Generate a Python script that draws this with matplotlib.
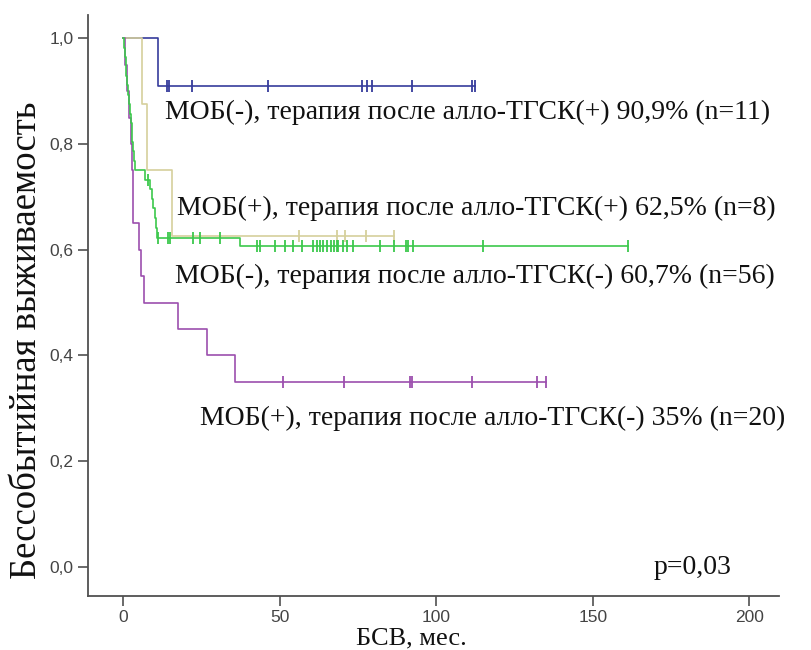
import matplotlib
matplotlib.use("Agg")
import matplotlib.pyplot as plt
import numpy as np

# ---------------- data ----------------
# Group 1: МОБ(-), therapy after allo-HSCT (+), n=11
blue_event_t = [11.3]
blue_event_s = [0.909]
blue_censor_t = [14.1, 14.6, 22.0, 46.3, 76.3, 77.9, 79.5, 92.3, 111.5, 112.5]

# Group 2: МОБ(+), therapy after allo-HSCT (+), n=8
yellow_event_t = [6.2, 7.6, 15.6]
yellow_event_s = [0.875, 0.750, 0.625]
yellow_censor_t = [56.2, 68.3, 70.9, 77.6, 86.6]

# Group 3: МОБ(-), therapy after allo-HSCT (-), n=56
green_event_t = [0.3, 0.5, 0.8, 1.0, 1.3, 1.5, 1.8, 2.1, 2.4, 2.7, 3.0, 3.3, 3.5, 3.8,
                 7.0, 8.6, 9.1, 9.6, 10.1, 10.5, 10.9, 37.5]
green_event_s = [0.982, 0.964, 0.946, 0.929, 0.911, 0.893, 0.875, 0.857, 0.839, 0.821,
                 0.804, 0.786, 0.768, 0.750, 0.732, 0.714, 0.696, 0.678, 0.660, 0.641,
                 0.623, 0.607]
green_censor_t = [7.9, 11.2, 14.4, 15.0, 22.4, 24.6, 31.0,
                  42.8, 43.8, 48.5, 51.7, 54.3, 57.2, 60.7, 62.0, 62.9, 63.9, 65.2, 66.4,
                  67.4, 68.3, 68.7, 70.3, 71.6, 73.5, 82.1, 86.6, 90.4, 91.0, 92.6, 115.0,
                  161.3]

# Group 4: МОБ(+), therapy after allo-HSCT (-), n=20
purple_event_t = [0.6, 1.2, 1.8, 2.6, 3.0, 3.1, 3.2, 5.1, 5.8, 6.7, 17.6, 26.8, 35.8]
purple_event_s = [0.95, 0.90, 0.85, 0.80, 0.75, 0.70, 0.65, 0.60, 0.55, 0.50, 0.45, 0.40, 0.35]
purple_censor_t = [51.1, 70.6, 91.7, 92.3, 111.5, 132.2, 135.0]

labels = [
    "МОБ(-), терапия после алло-ТГСК(+) 90,9% (n=11)",
    "МОБ(+), терапия после алло-ТГСК(+) 62,5% (n=8)",
    "МОБ(-), терапия после алло-ТГСК(-) 60,7% (n=56)",
    "МОБ(+), терапия после алло-ТГСК(-) 35% (n=20)",
]
label_x = [13.4, 17.2, 16.6, 24.6]
label_y = [0.847, 0.666, 0.537, 0.268]

x_ticks = [0, 50, 100, 150, 200]
y_ticks = [0.0, 0.2, 0.4, 0.6, 0.8, 1.0]
y_tick_labels = ["0,0", "0,2", "0,4", "0,6", "0,8", "1,0"]
p_text = "p=0,03"
x_title = "БСВ, мес."
y_title = "Бессобытийная выживаемость"

# ---------------- drawing ----------------
fig = plt.figure(figsize=(8.11, 6.5), dpi=100)
ax = fig.add_axes([0.1081, 0.0831, 0.9603 - 0.1081, 0.9769 - 0.0831])
ax.set_xlim(-11.3, 209.4)
ax.set_ylim(-0.0553, 1.044)


def draw_km(ev_t, ev_s, cen_t, color, z):
    ev_t = list(ev_t)
    ev_s = list(ev_s)
    end = max(ev_t + list(cen_t))
    times = [0.0] + ev_t + [end]
    surv = [1.0] + ev_s + [ev_s[-1]]
    ax.step(times, surv, where="post", color=color, lw=1.2, zorder=z)
    levels = np.array([1.0] + ev_s)
    idx = np.searchsorted(np.array(ev_t), np.array(cen_t), side="right")
    ax.plot(cen_t, levels[idx], linestyle="none", marker="|", markersize=9,
            markeredgewidth=1.3, color=color, zorder=z)


draw_km(blue_event_t, blue_event_s, blue_censor_t, "#363c9c", 2)
draw_km(yellow_event_t, yellow_event_s, yellow_censor_t, "#d6d09c", 3)
draw_km(purple_event_t, purple_event_s, purple_censor_t, "#9c4fae", 4)
draw_km(green_event_t, green_event_s, green_censor_t, "#3cc84c", 5)

for s in ["top", "right"]:
    ax.spines[s].set_visible(False)
for s in ["left", "bottom"]:
    ax.spines[s].set_color("#505050")
    ax.spines[s].set_linewidth(1.3)

ax.set_xticks(x_ticks)
ax.set_xticklabels([str(v) for v in x_ticks])
ax.set_yticks(y_ticks)
ax.set_yticklabels(y_tick_labels)
ax.tick_params(axis="both", direction="out", length=7, width=1.2, color="#505050",
               labelcolor="#444444", labelsize=12.5, pad=3)
for t in ax.get_xticklabels() + ax.get_yticklabels():
    t.set_fontfamily("Liberation Sans")

serif = "Liberation Serif"
for txt, lx, ly in zip(labels, label_x, label_y):
    ax.text(lx, ly, txt, fontsize=20, family=serif, color="#111111",
            ha="left", va="baseline", zorder=10)
ax.text(169.3, -0.0137, p_text, fontsize=20, family=serif, color="#111111",
        ha="left", va="baseline")

fig.text(411 / 811, 6 / 650, x_title, fontsize=19, family=serif, color="#111111",
         ha="center", va="baseline")
fig.text(27 / 811, 1 - 340 / 650, y_title, fontsize=26.5, family=serif, color="#111111",
         ha="center", va="center", rotation=90)

fig.savefig("out.png", dpi=100)
